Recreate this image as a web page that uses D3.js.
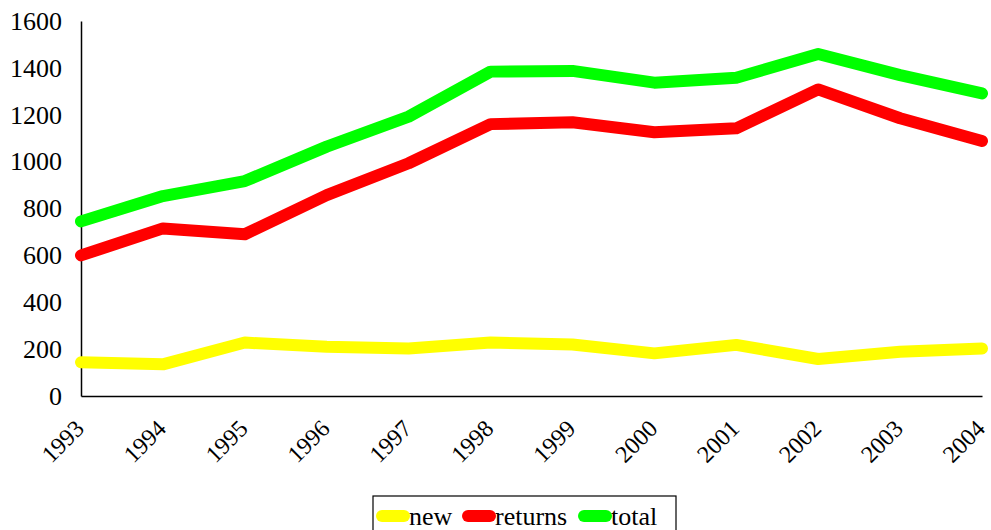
<!DOCTYPE html>
<html><head><meta charset="utf-8">
<script src="https://cdn.jsdelivr.net/npm/d3@7"></script>
<style>body{margin:0;background:#fff}svg{display:block}text{font-family:'Liberation Serif','Times New Roman',serif}</style>
</head><body><svg id="c" width="991" height="530"></svg>
<script>
const years = ["1993","1994","1995","1996","1997","1998","1999","2000","2001","2002","2003","2004"];
const newVals = [144,135,228,210,203,228,220,182,218,158,189,203];
const returnsVals = [600,715,690,857,993,1160,1168,1125,1142,1308,1185,1088];
const totalVals = [745,853,917,1064,1192,1384,1387,1337,1358,1459,1369,1291];
const yTicks = [0,200,400,600,800,1000,1200,1400,1600];
const seriesNames = ["new","returns","total"];
const seriesColors = ["#ffff00","#ff0000","#00ff00"];

const svg = d3.select("#c");
const font = "'Liberation Serif','Times New Roman',serif";
const x = d3.scalePoint().domain(years).range([81, 982]);
const y = d3.scaleLinear().domain([0,1600]).range([396, 21]);

// axes
const yAxis = svg.append("g").attr("transform","translate(81,0)")
  .call(d3.axisLeft(y).tickValues(yTicks).tickFormat(d3.format("d")).tickSize(0).tickPadding(19));
yAxis.attr("font-family",font).attr("font-size",26);
yAxis.select(".domain").attr("stroke","#000").attr("stroke-width",1.5);
yAxis.selectAll("text").style("font-family",font).attr("font-size",26).attr("fill","#000");

const xAxis = svg.append("g").attr("transform","translate(0,396)")
  .call(d3.axisBottom(x).tickSize(0).tickPadding(0));
xAxis.attr("font-family",font).attr("font-size",24);
xAxis.select(".domain").attr("stroke","#000").attr("stroke-width",1.5);
xAxis.selectAll("text").style("font-family",font).attr("font-size",24).attr("fill","#000")
  .attr("text-anchor","end").attr("dy",null).attr("y",0)
  .attr("transform","translate(4,34) rotate(-45)");

const data = [newVals, returnsVals, totalVals];
const line = d3.line().x((d,i)=>x(years[i])).y(d=>y(d));
data.forEach((vals,k)=>{
  svg.append("path").datum(vals).attr("d",line).attr("fill","none")
    .attr("stroke",seriesColors[k]).attr("stroke-width",12)
    .attr("stroke-linecap","round").attr("stroke-linejoin","round");
});

// legend
const lg = svg.append("g");
lg.append("rect").attr("x",373).attr("y",496).attr("width",303).attr("height",60)
  .attr("fill","#fff").attr("stroke","#000").attr("stroke-width",1.2);
const lx = [382, 468, 584];
seriesNames.forEach((n,k)=>{
  lg.append("line").attr("x1",lx[k]).attr("x2",lx[k]+22).attr("y1",516).attr("y2",516)
    .attr("stroke",seriesColors[k]).attr("stroke-width",12).attr("stroke-linecap","round");
  lg.append("text").attr("x",lx[k]+27).attr("y",525).text(n)
    .style("font-family",font).attr("font-size",26).attr("fill","#000");
});
</script></body></html>
